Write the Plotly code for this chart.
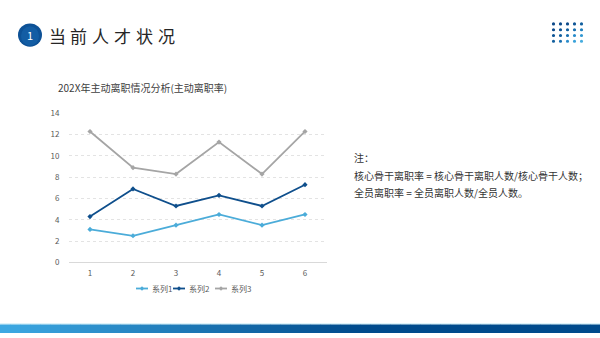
import plotly.graph_objects as go

# Chart data
categories = [1, 2, 3, 4, 5, 6]
series1 = [3.1, 2.5, 3.5, 4.5, 3.5, 4.5]
series2 = [4.3, 6.9, 5.3, 6.3, 5.3, 7.3]
series3 = [12.3, 8.9, 8.3, 11.3, 8.3, 12.3]
series_names = ["系列1", "系列2", "系列3"]
series_colors = ["#4bacd9", "#0f4f8c", "#a5a5a5"]
y_ticks = [0, 2, 4, 6, 8, 10, 12, 14]

W, H = 600, 338
FONT = "Noto Sans CJK SC"


def px(x):
    return x / W


def py(y):
    return 1 - y / H


fig = go.Figure()
for name, vals, col in zip(series_names, [series1, series2, series3], series_colors):
    fig.add_trace(go.Scatter(
        x=categories, y=vals, name=name, mode="lines+markers",
        line=dict(color=col, width=1.8),
        marker=dict(color=col, size=4, symbol="diamond"),
        showlegend=False,
    ))

shapes = []
annotations = []

# header badge
shapes.append(dict(type="circle", xref="paper", yref="paper",
                   x0=px(18), x1=px(42), y0=py(42), y1=py(18),
                   fillcolor="#0d5196", line=dict(width=0)))
shapes.append(dict(type="circle", xref="paper", yref="paper",
                   x0=px(21), x1=px(39), y0=py(41), y1=py(21),
                   fillcolor="#1766ad", line=dict(width=0), opacity=0.6))
annotations.append(dict(text="1", xref="paper", yref="paper", x=px(30), y=py(30),
                        showarrow=False, font=dict(family=FONT, size=11, color="white"),
                        xanchor="center", yanchor="middle"))
for i, ch in enumerate("当前人才状况"):
    annotations.append(dict(text=ch, xref="paper", yref="paper", x=px(57 + i * 21.8), y=py(30),
                            showarrow=False, font=dict(family=FONT, size=17, color="#262626"),
                            xanchor="center", yanchor="middle"))

# dot grid decoration (top right)
dot_cols = [["#0d4a8a", "#0d4a8a", "#0d4a8a", "#0f5596", "#13609f"],
            ["#0d4a8a", "#0f5596", "#13609f", "#1a70b0", "#2080bf"],
            ["#0f5596", "#13609f", "#1a70b0", "#2a8ccb", "#3399d3"],
            ["#13609f", "#1a70b0", "#2a8ccb", "#3aa2da", "#45acdf"]]
for r in range(4):
    for c in range(5):
        cx, cy = 553.5 + c * 7, 18.5 + r * 6
        shapes.append(dict(type="circle", xref="paper", yref="paper",
                           x0=px(cx - 1.6), x1=px(cx + 1.6), y0=py(cy + 1.6), y1=py(cy - 1.6),
                           fillcolor=dot_cols[r][c], line=dict(width=0)))


# bottom gradient band
def lerp(a, b, t):
    return "#%02x%02x%02x" % tuple(int(a[i] + (b[i] - a[i]) * t) for i in range(3))


left_c, right_c = (62, 170, 228), (0, 74, 140)
n = 60
for i in range(n):
    x0 = i * W / n
    t = min(1.0, (i + 0.5) / n / 0.6)
    shapes.append(dict(type="rect", xref="paper", yref="paper",
                       x0=px(x0), x1=px(x0 + W / n + 0.5), y0=0, y1=py(329),
                       fillcolor=lerp(left_c, right_c, t), line=dict(width=0)))
shapes.append(dict(type="line", xref="paper", yref="paper", x0=0, x1=1,
                   y0=py(328.5), y1=py(328.5), line=dict(color="#cfeef8", width=1)))

# chart title
annotations.append(dict(text="202X年主动离职情况分析(主动离职率)", xref="paper", yref="paper",
                        x=px(56), y=py(84), showarrow=False, xanchor="left", yanchor="middle",
                        font=dict(family=FONT, size=10, color="#404040")))

# compact legend row
legend_x = [136, 173, 215]
legend_y = 292
for name, col, lx in zip(series_names, series_colors, legend_x):
    shapes.append(dict(type="line", xref="paper", yref="paper",
                       x0=px(lx), x1=px(lx + 12), y0=py(legend_y), y1=py(legend_y),
                       line=dict(color=col, width=1.8)))
    mx, my, d = lx + 6, legend_y, 2.2
    shapes.append(dict(type="path", xref="paper", yref="paper",
                       path=f"M {px(mx - d)} {py(my)} L {px(mx)} {py(my - d)} L {px(mx + d)} {py(my)} "
                            f"L {px(mx)} {py(my + d)} Z",
                       fillcolor=col, line=dict(width=0)))
    annotations.append(dict(text=name, xref="paper", yref="paper", x=px(lx + 13.5), y=py(legend_y),
                            showarrow=False, xanchor="left", yanchor="middle",
                            font=dict(family=FONT, size=8, color="#595959")))

# notes
notes = ["注：", "核心骨干离职率 = 核心骨干离职人数/核心骨干人数；", "全员离职率 = 全员离职人数/全员人数。"]
for i, line in enumerate(notes):
    annotations.append(dict(text=line, xref="paper", yref="paper", x=px(352), y=py(157 + i * 18),
                            showarrow=False, xanchor="left", yanchor="middle",
                            font=dict(family=FONT, size=10, color="#333333")))

fig.update_layout(
    width=W, height=H, margin=dict(l=0, r=0, t=0, b=0),
    paper_bgcolor="white", plot_bgcolor="white",
    font=dict(family=FONT, color="#595959"),
    shapes=shapes, annotations=annotations,
    showlegend=False,
    xaxis=dict(domain=[px(68.5), px(326.5)], range=[0.5, 6.5], tickvals=categories,
               showgrid=False, zeroline=False, showline=False, ticks="",
               ticklabelstandoff=5,
               tickfont=dict(size=8, color="#595959")),
    yaxis=dict(domain=[py(265), py(111)], range=[0, 14], tickvals=y_ticks,
               showgrid=True, gridcolor="#e3e3e3", griddash="dot", gridwidth=1,
               zeroline=True, zerolinecolor="#d9d9d9", zerolinewidth=1,
               showline=False, ticks="", ticklabelstandoff=8,
               tickfont=dict(size=8, color="#595959")),
)

fig.write_html("out.html")
